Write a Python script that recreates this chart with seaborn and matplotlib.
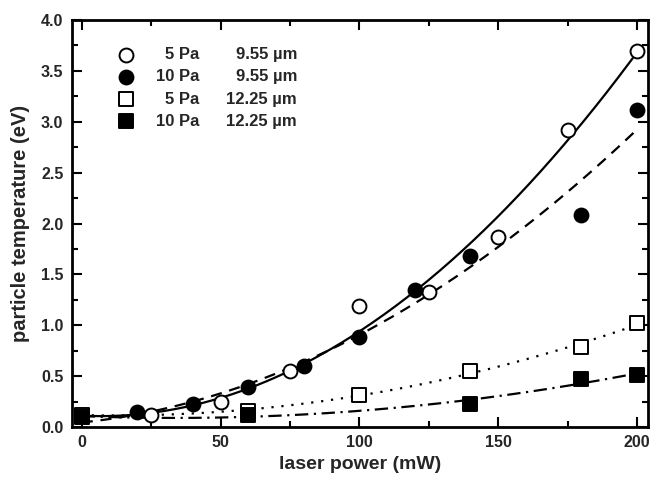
import numpy as np
import pandas as pd
import seaborn as sns
import matplotlib
matplotlib.use("Agg")
import matplotlib.pyplot as plt
from matplotlib.ticker import MultipleLocator

# ---- data ----
p_5pa_955 = [25, 50, 75, 100, 125, 150, 175, 200]
t_5pa_955 = [0.12, 0.25, 0.55, 1.19, 1.33, 1.87, 2.92, 3.70]

p_10pa_955 = [20, 40, 60, 80, 100, 120, 140, 180, 200]
t_10pa_955 = [0.15, 0.23, 0.39, 0.60, 0.88, 1.35, 1.68, 2.08, 3.12]

p_5pa_1225 = [0, 60, 100, 140, 180, 200]
t_5pa_1225 = [0.12, 0.16, 0.31, 0.55, 0.79, 1.02]

p_10pa_1225 = [0, 60, 140, 180, 200]
t_10pa_1225 = [0.10, 0.12, 0.23, 0.47, 0.51]

pressures = ["5 Pa", "10 Pa", "5 Pa", "10 Pa"]
sizes = ["9.55 \u00b5m", "9.55 \u00b5m", "12.25 \u00b5m", "12.25 \u00b5m"]

series = [
    (p_5pa_955, t_5pa_955, "o", "white", "-"),
    (p_10pa_955, t_10pa_955, "o", "black", (0, (5, 3.5))),
    (p_5pa_1225, t_5pa_1225, "s", "white", (0, (1, 3.5))),
    (p_10pa_1225, t_10pa_1225, "s", "black", (0, (6, 2.5, 1, 2.5))),
]

sns.set_theme(style="ticks")
plt.rcParams["font.family"] = ["Liberation Sans", "DejaVu Sans"]
plt.rcParams["font.weight"] = "bold"

fig = plt.figure(figsize=(6.52, 4.79), dpi=100)
ax = fig.add_axes([0.110, 0.1086, 0.884, 0.8496])

xs = np.linspace(0, 200, 300)
for (px, ty, mk, fc, ls) in series:
    coef = np.polyfit(px, ty, 2)
    fit = pd.DataFrame({"x": xs, "y": np.polyval(coef, xs)})
    sns.lineplot(data=fit, x="x", y="y", ax=ax, color="black", lw=1.6,
                 linestyle=ls, zorder=2)

for (px, ty, mk, fc, ls) in series:
    df = pd.DataFrame({"x": px, "y": ty})
    sns.scatterplot(data=df, x="x", y="y", ax=ax, marker=mk, s=100,
                    facecolor=fc, edgecolor="black", linewidth=1.4, zorder=3)

# legend (manual for column alignment)
rows_y = [0.915, 0.861, 0.805, 0.751]
for i, (px, ty, mk, fc, ls) in enumerate(series):
    ax.scatter([0.095], [rows_y[i]], transform=ax.transAxes, marker=mk, s=100,
               facecolor=fc, edgecolor="black", linewidth=1.4, zorder=4,
               clip_on=False)
    ax.text(0.221, rows_y[i], pressures[i], transform=ax.transAxes,
            ha="right", va="center", fontsize=12, fontweight="bold")
    ax.text(0.391, rows_y[i], sizes[i], transform=ax.transAxes,
            ha="right", va="center", fontsize=12, fontweight="bold")

ax.set_xlim(-3.6, 204)
ax.set_ylim(0, 4.0)
ax.xaxis.set_major_locator(MultipleLocator(50))
ax.xaxis.set_minor_locator(MultipleLocator(25))
ax.yaxis.set_major_locator(MultipleLocator(0.5))
ax.yaxis.set_minor_locator(MultipleLocator(0.25))
ax.yaxis.set_major_formatter(matplotlib.ticker.FormatStrFormatter("%.1f"))
ax.tick_params(which="both", direction="in", top=True, right=True,
               labeltop=False, labelright=False, width=1.5, color="black")
ax.tick_params(which="major", length=7, labelsize=11.5, pad=6)
ax.tick_params(which="minor", length=4)
for lab in ax.get_xticklabels() + ax.get_yticklabels():
    lab.set_fontweight("bold")
for sp in ax.spines.values():
    sp.set_linewidth(2)
    sp.set_color("black")
    sp.set_visible(True)

ax.set_xlabel("laser power (mW)", fontsize=14, fontweight="bold", labelpad=4)
ax.set_ylabel("particle temperature (eV)", fontsize=14.5, fontweight="bold", labelpad=8)

fig.savefig("out.png", dpi=100)
